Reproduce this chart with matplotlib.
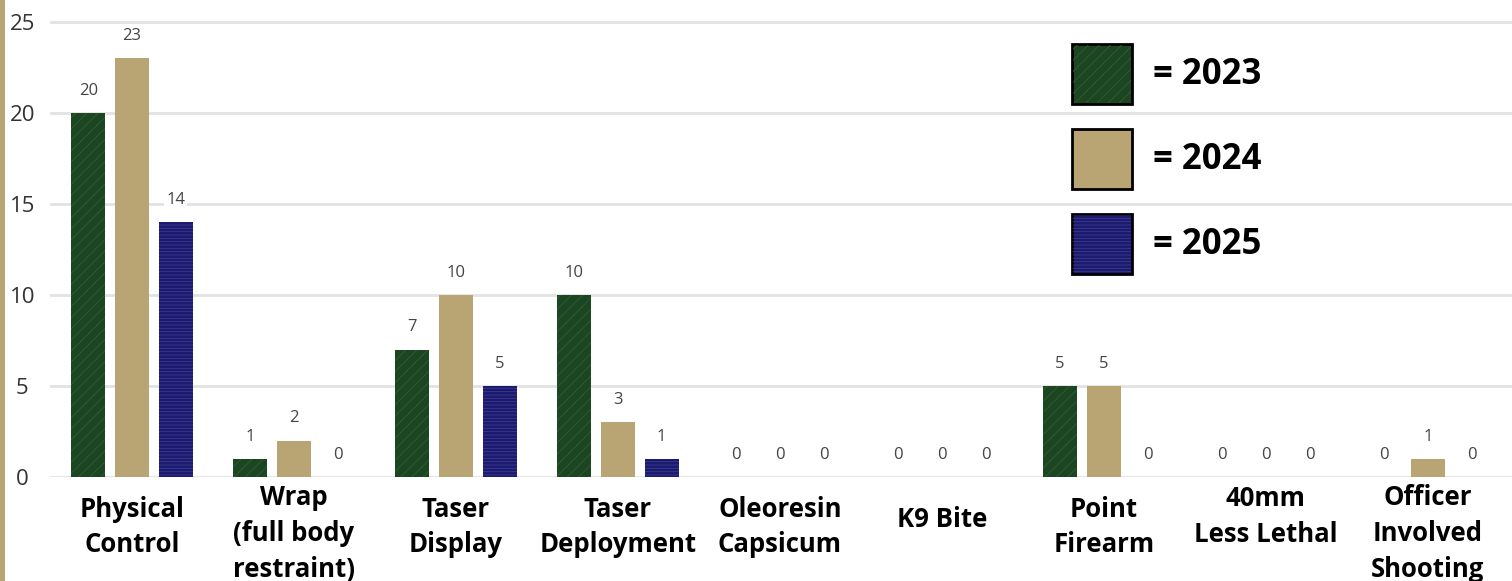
import numpy as np
import matplotlib.pyplot as plt
from matplotlib.patches import Rectangle

# data
categories = ['Physical\nControl', 'Wrap\n(full body\nrestraint)', 'Taser\nDisplay',
              'Taser\nDeployment', 'Oleoresin\nCapsicum', 'K9 Bite', 'Point\nFirearm',
              '40mm\nLess Lethal', 'Officer\nInvolved\nShooting']
label_offsets = [0.0, 0.35, 0.0, 0.0, 0.0, -0.4, 0.0, -0.6, 0.35]  # vertical nudge of tick text
years = ['2023', '2024', '2025']
vals_2023 = [20, 1, 7, 10, 0, 0, 5, 0, 0]
vals_2024 = [23, 2, 10, 3, 0, 0, 5, 0, 1]
vals_2025 = [14, 0, 5, 1, 0, 0, 0, 0, 0]

colors = ['#1c4522', '#b9a473', '#1c1a6c']
hatch_cols = ['#2f5f34', '#b9a473', '#3a3a96']
hatches = ['///', None, '-----']

plt.rcParams['font.family'] = ['Open Sans', 'DejaVu Sans']
plt.rcParams['hatch.linewidth'] = 0.6

fig = plt.figure(figsize=(15.12, 5.81), dpi=100)
W, H = 1512, 581
ax = fig.add_axes([50 / W, 1 - 477 / H, 1 - 50 / W, (477 - 15) / H])

x = np.arange(len(categories))
width = 0.21
step = 0.27
series = [vals_2023, vals_2024, vals_2025]
for i, vals in enumerate(series):
    pos = x + (i - 1) * step
    bars = ax.bar(pos, vals, width, color=colors[i], edgecolor=hatch_cols[i],
                  hatch=hatches[i], linewidth=0, zorder=3)
    for b, v in zip(bars, vals):
        ax.annotate(str(v), (b.get_x() + b.get_width() / 2, v), xytext=(0, 16),
                    textcoords='offset points', ha='center', va='center',
                    fontsize=12, color='#444444', zorder=4,
                    bbox=dict(facecolor='white', edgecolor='none', pad=1.5))

ax.set_xlim(-0.506, 8.52)
ax.set_ylim(0, 25.38)
ax.set_yticks([0, 5, 10, 15, 20, 25])
ax.grid(axis='y', color='#e2e2e2', linewidth=2, zorder=0)
ax.set_axisbelow(True)
for s in ax.spines.values():
    s.set_visible(False)
ax.tick_params(axis='y', length=0, pad=20, labelsize=16, labelcolor='#333333')
for t in ax.get_yticklabels():
    t.set_horizontalalignment('center')
ax.set_xticks([])

for xi, cat, off in zip(x, categories, label_offsets):
    ax.text(xi, -2.75 - off, cat, ha='center', va='center', fontsize=18.5,
            fontweight='bold', color='black', linespacing=1.42, clip_on=False)

# legend drawn as boxes in figure pixels
legend_y = [74, 159, 244]
for i, yr in enumerate(years):
    cy = legend_y[i]
    fig.patches.append(Rectangle((1072 / W, 1 - (cy + 30) / H), 60 / W, 60 / H,
                                 transform=fig.transFigure, facecolor=colors[i],
                                 edgecolor='black', linewidth=2, zorder=5))
    if hatches[i]:
        fig.patches.append(Rectangle((1073 / W, 1 - (cy + 29) / H), 58 / W, 58 / H,
                                     transform=fig.transFigure, facecolor='none',
                                     edgecolor=hatch_cols[i], hatch=hatches[i],
                                     linewidth=0, zorder=6))
    fig.text(1153 / W, 1 - (cy + 1) / H, '= ' + yr, ha='left', va='center',
             fontsize=25, fontweight='bold', color='black')

# tan strip on the left edge
fig.patches.append(Rectangle((0, 0), 5 / W, 1, transform=fig.transFigure,
                             facecolor='#b9a473', edgecolor='none'))

fig.savefig('out.png', dpi=100)
